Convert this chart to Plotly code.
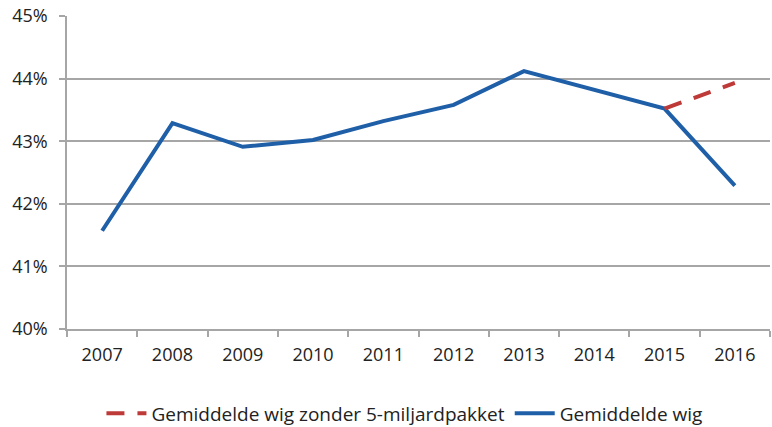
import plotly.graph_objects as go

years = ["2007", "2008", "2009", "2010", "2011", "2012", "2013", "2014", "2015", "2016"]
wig = [41.57, 43.29, 42.91, 43.02, 43.32, 43.58, 44.12, 43.82, 43.52, 42.29]
wig_zonder_years = ["2015", "2016"]
wig_zonder = [43.52, 43.93]
y_ticks = [40, 41, 42, 43, 44, 45]
y_tick_labels = ["40%", "41%", "42%", "43%", "44%", "45%"]

FONT = "Open Sans, Lato, Liberation Sans, sans-serif"

fig = go.Figure()
fig.add_trace(go.Scatter(
    x=years, y=wig, mode="lines", name="Gemiddelde wig",
    line=dict(color="#1F5FA8", width=4),
))
fig.add_trace(go.Scatter(
    x=wig_zonder_years, y=wig_zonder, mode="lines",
    name="Gemiddelde wig zonder 5-miljardpakket",
    line=dict(color="#BE3A38", width=4, dash="18px,13px"),
))

fig.update_layout(
    width=772, height=427,
    margin=dict(l=67, r=2, t=16, b=98, autoexpand=False),
    paper_bgcolor="white", plot_bgcolor="white",
    font=dict(family=FONT, size=18, color="#222222"),
    showlegend=True,
    legend=dict(orientation="h", x=0.48, xanchor="center", y=-0.27, yanchor="middle",
                traceorder="reversed", font=dict(size=19), itemwidth=40),
    xaxis=dict(type="category", categoryorder="array", categoryarray=years,
               range=[-0.5, 9.5], showgrid=False, showline=True, linecolor="#a6a6a6",
               linewidth=1.5, ticks="outside", tickson="boundaries", ticklen=6,
               tickcolor="#a6a6a6", tickwidth=1.5, fixedrange=True, automargin=False,
               ticklabelstandoff=9),
    yaxis=dict(range=[40, 45], tickvals=y_ticks, ticktext=y_tick_labels, showgrid=True,
               gridcolor="#a6a6a6", gridwidth=1.5, showline=True, linecolor="#a6a6a6",
               linewidth=1.5, ticks="outside", ticklen=6, tickcolor="#a6a6a6",
               tickwidth=1.5, zeroline=False, fixedrange=True, automargin=False,
               ticklabelstandoff=8),
)

fig.write_html("out.html", config={"displayModeBar": False},
               post_script="document.body.style.margin='0';document.body.style.overflow='hidden';")
